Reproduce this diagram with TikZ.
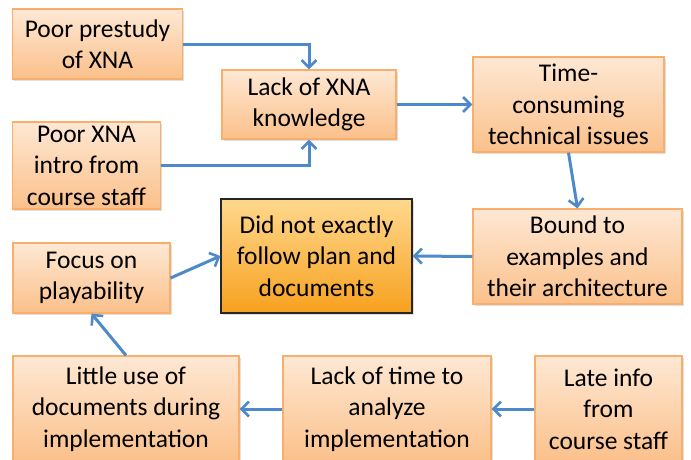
\documentclass[tikz,border=0pt]{standalone}
\usepackage{fontspec}
\setmainfont{Carlito}
\usetikzlibrary{arrows.meta,shadows,calc}
\definecolor{boxtop}{HTML}{FEE8D4}
\definecolor{boxbot}{HTML}{FBC08A}
\definecolor{boxline}{HTML}{F9AE6B}
\definecolor{keytop}{HTML}{FFD88E}
\definecolor{keybot}{HTML}{F7A11E}
\definecolor{arrowblue}{HTML}{4E8ACA}
\tikzset{
  cause/.style={draw=boxline, line width=1.2pt, top color=boxtop, bottom color=boxbot,
    inner sep=0pt, align=center,
    font=\fontsize{25.5}{31.5}\selectfont,
    drop shadow={shadow xshift=1.5pt, shadow yshift=-1.5pt, opacity=0.25}},
  keybox/.style={cause, draw=black!85, top color=keytop, bottom color=keybot},
  arr/.style={draw=arrowblue, line width=3pt,
    -{Straight Barb[length=7.5pt,width=15pt,line width=2.6pt]}},
}
\begin{document}
\begin{tikzpicture}[x=1pt,y=-1pt]
\useasboundingbox (0,0) rectangle (691,459);
\clip (0,0) rectangle (691,459);
\fill[white] (0,0) rectangle (691,459);
\node[cause, minimum width=170pt, minimum height=70pt] (b1) at (97.5,44) {Poor prestudy\\of XNA};
\node[cause, minimum width=148pt, minimum height=87pt] (b2) at (86.5,165.5) {Poor XNA\\intro from\\course staff};
\node[cause, minimum width=174pt, minimum height=69pt] (b3) at (309,104.5) {Lack of XNA\\knowledge};
\node[cause, minimum width=191pt, minimum height=95pt] (b4) at (568.5,104.5) {Time-\\consuming\\technical issues};
\node[cause, minimum width=209pt, minimum height=95pt] (b5) at (577.5,256.5) {Bound to\\examples and\\their architecture};
\node[keybox, minimum width=191pt, minimum height=114pt] (b6) at (316.5,256) {Did not exactly\\follow plan and\\documents};
\node[cause, minimum width=157pt, minimum height=70pt] (b7) at (91.5,278) {Focus on\\playability};
\node[cause, minimum width=226pt, minimum height=106pt] (b8) at (126,409) {Little use of\\documents during\\implementation};
\node[cause, minimum width=208pt, minimum height=106pt] (b9) at (387,409) {Lack of time to\\analyze\\implementation};
\node[cause, minimum width=147pt, minimum height=106pt] (b10) at (608.5,409) {Late info\\from\\course staff};
\draw[arr] (b1.east) -| (b3.north);
\draw[arr] (b2.east) -| (b3.south);
\draw[arr] (b3.east) -- (b4.west);
\draw[arr] (b4.south) -- (b5.north);
\draw[arr] (b5.west) -- (b6.east);
\draw[arr] (b7.east) -- (b6.west);
\draw[arr] (b8.north) -- (b7.south);
\draw[arr] (b9.west) -- (b8.east);
\draw[arr] (b10.west) -- (b9.east);
\end{tikzpicture}
\end{document}
